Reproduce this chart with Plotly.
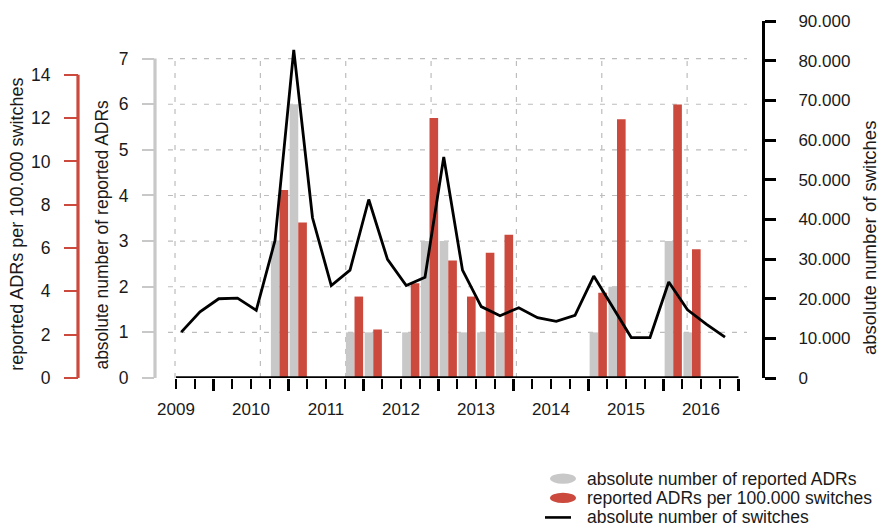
import plotly.graph_objects as go

# ---------------- data ----------------
years = [2009]*4 + [2010]*4 + [2011]*4 + [2012]*4 + [2013]*4 + [2014]*4 + [2015]*4 + [2016]*2
quarters = [1, 2, 3, 4]*7 + [1, 2]

adr_abs = [0, 0, 0, 0, 0, 3, 6, 0, 0, 1, 1, 0, 1, 3, 3, 1,
           1, 1, 0, 0, 0, 0, 1, 2, 0, 0, 3, 1, 0, 0]
adr_rate = [0, 0, 0, 0, 0, 8.68, 7.18, 0, 0, 3.76, 2.24, 0, 4.37, 12.0, 5.42, 3.76,
            5.78, 6.62, 0, 0, 0, 0, 3.94, 11.95, 0, 0, 12.63, 5.94, 0, 0]
switches = [11560, 16660, 19980, 20120, 17080, 34650, 82700, 40400, 23300, 27200,
            45000, 29900, 23300, 25400, 55700, 27200, 18000, 15700, 17700, 15200,
            14300, 15800, 25700, 18100, 10200, 10200, 24200, 17200, 13600, 10300]

year_labels = [2009, 2010, 2011, 2012, 2013, 2014, 2015, 2016]
abs_ticks = [0, 1, 2, 3, 4, 5, 6, 7]
rate_ticks = [0, 2, 4, 6, 8, 10, 12, 14]
switch_ticks = [0, 10000, 20000, 30000, 40000, 50000, 60000, 70000, 80000, 90000]

# ---------------- style ----------------
W, H = 882, 529
ML, MR, MT, MB = 78, 120, 17, 151
PW, PH = W - ML - MR, H - MT - MB
GRAY = "#c8c8c8"
RED = "#cb4a3d"
TXT = "#1a1a1a"
FONT = "Liberation Sans, Arial, sans-serif"

def pxx(px):
    return (px - ML) / PW

def pxy(py):
    return (H - MB - py) / PH

xstart = 2009 - 21 / 75
xend = xstart + 607 / 75

qx = [y + (q - 1) / 4 for y, q in zip(years, quarters)]
bw = 0.115

fig = go.Figure()
fig.add_trace(go.Bar(x=qx, y=adr_abs, width=bw, offset=0.015, marker=dict(color=GRAY, line=dict(width=0)),
                     xaxis="x", yaxis="y", showlegend=False, name="absolute number of reported ADRs"))
fig.add_trace(go.Bar(x=qx, y=adr_rate, width=bw, offset=0.015 + bw, marker=dict(color=RED, line=dict(width=0)),
                     xaxis="x", yaxis="y2", showlegend=False, name="reported ADRs per 100.000 switches"))
fig.add_trace(go.Scatter(x=[v + 0.07 for v in qx], y=switches, mode="lines",
                         line=dict(color="black", width=2.8), xaxis="x", yaxis="y3",
                         showlegend=False, name="absolute number of switches"))

quarter_ticks = [2009 + k / 4 for k in range(31)]
quarter_text = [str(int(v)) if abs(v - round(v)) < 1e-9 else "" for v in quarter_ticks]
half_ticks = [y + 0.5 for y in year_labels]

shapes = []
for t in abs_ticks[1:]:
    shapes.append(dict(type="line", xref="x", yref="y", x0=2008.893, x1=2016.613, y0=t, y1=t,
                       line=dict(color="#bdbdbd", width=1.2, dash="5px,7px"), layer="below"))
for k in range(7):
    gx = 2008.987 + 1.138 * k
    shapes.append(dict(type="line", xref="x", yref="y", x0=gx, x1=gx, y0=0, y1=7.1,
                       line=dict(color="#bdbdbd", width=1.2, dash="5px,7px"), layer="below"))
shapes.append(dict(type="line", xref="x domain", yref="y", x0=0, x1=0, y0=0, y1=7,
                   line=dict(color=GRAY, width=3.2)))
shapes.append(dict(type="line", xref="paper", yref="y2", x0=0, x1=0, y0=0, y1=14,
                   line=dict(color=RED, width=3.2)))
shapes.append(dict(type="line", xref="x", yref="y", x0=2009, x1=2016.5, y0=0, y1=0,
                   line=dict(color="black", width=3.6)))
shapes.append(dict(type="circle", xref="paper", yref="paper", x0=pxx(550), x1=pxx(576),
                   y0=pxy(485), y1=pxy(474.5), fillcolor=GRAY, line=dict(width=0)))
shapes.append(dict(type="circle", xref="paper", yref="paper", x0=pxx(550), x1=pxx(576),
                   y0=pxy(504.5), y1=pxy(494), fillcolor=RED, line=dict(width=0)))
shapes.append(dict(type="line", xref="paper", yref="paper", x0=pxx(545), x1=pxx(571),
                   y0=pxy(519), y1=pxy(519), line=dict(color="black", width=2.6)))

annotations = []
leg_items = [("absolute number of reported ADRs", 480),
             ("reported ADRs per 100.000 switches", 499.5),
             ("absolute number of switches", 519)]
for txt, yy in leg_items:
    annotations.append(dict(text=txt, xref="paper", yref="paper", x=pxx(585), y=pxy(yy),
                            xanchor="left", yanchor="middle", showarrow=False,
                            font=dict(size=17.5, color=TXT, family=FONT)))
annotations.append(dict(text="reported ADRs per 100.000 switches", xref="paper", yref="paper",
                        x=pxx(17), y=pxy(223), textangle=-90, showarrow=False,
                        xanchor="center", yanchor="middle", font=dict(size=18, color=TXT, family=FONT)))
annotations.append(dict(text="absolute number of reported ADRs", xref="paper", yref="paper",
                        x=pxx(102), y=pxy(233), textangle=-90, showarrow=False,
                        xanchor="center", yanchor="middle", font=dict(size=17.5, color=TXT, family=FONT)))
annotations.append(dict(text="absolute number of switches", xref="paper", yref="paper",
                        x=pxx(869), y=pxy(236.5), textangle=-90, showarrow=False,
                        xanchor="center", yanchor="middle", font=dict(size=18.5, color=TXT, family=FONT)))

fig.update_layout(
    width=W, height=H,
    margin=dict(l=ML, r=MR, t=MT, b=MB),
    paper_bgcolor="white", plot_bgcolor="white",
    separators=",.",
    barmode="overlay",
    showlegend=False,
    font=dict(family=FONT, color=TXT),
    xaxis=dict(domain=[pxx(155), 1], range=[xstart, xend], anchor="y",
               tickmode="array", tickvals=quarter_ticks, ticktext=quarter_text,
               ticks="outside", ticklen=10, tickwidth=1.6, tickcolor="black",
               showgrid=False, zeroline=False, showline=False,
               tickfont=dict(size=17, color=TXT), ticklabelstandoff=6),
    xaxis2=dict(overlaying="x", matches="x", anchor="y", side="bottom",
                tickmode="array", tickvals=half_ticks, showticklabels=False,
                ticks="outside", ticklen=12, tickwidth=3.2, tickcolor="black",
                showgrid=False, zeroline=False, showline=False),
    yaxis=dict(range=[0, PH / 46.14], anchor="x", side="left",
               tickmode="array", tickvals=abs_ticks,
               ticks="outside", ticklen=12, tickwidth=2.2, tickcolor=GRAY,
               showgrid=False, zeroline=False, showline=False,
               tickfont=dict(size=17.5, color=TXT), ticklabelstandoff=10),
    yaxis2=dict(range=[0, PH / 21.9], overlaying="y", anchor="free", position=0, side="left",
                tickmode="array", tickvals=rate_ticks,
                ticks="outside", ticklen=14, tickwidth=2.2, tickcolor=RED,
                showgrid=False, zeroline=False, showline=False,
                tickfont=dict(size=17.5, color=TXT), ticklabelstandoff=10),
    yaxis3=dict(range=[0, 90000], overlaying="y", anchor="x", side="right",
                tickmode="array", tickvals=switch_ticks, tickformat=",d",
                ticks="outside", ticklen=11, tickwidth=2.6, tickcolor="black",
                showline=True, linecolor="black", linewidth=3,
                showgrid=False, zeroline=False,
                tickfont=dict(size=17, color=TXT), ticklabelstandoff=19),
    shapes=shapes,
    annotations=annotations,
)

fig.add_trace(go.Scatter(x=[None], y=[None], xaxis="x2", yaxis="y", showlegend=False))

fig.write_html("out.html", config={"displayModeBar": False},
               post_script="document.body.style.margin='0px';document.body.style.padding='0px';document.body.style.overflow='hidden';")
